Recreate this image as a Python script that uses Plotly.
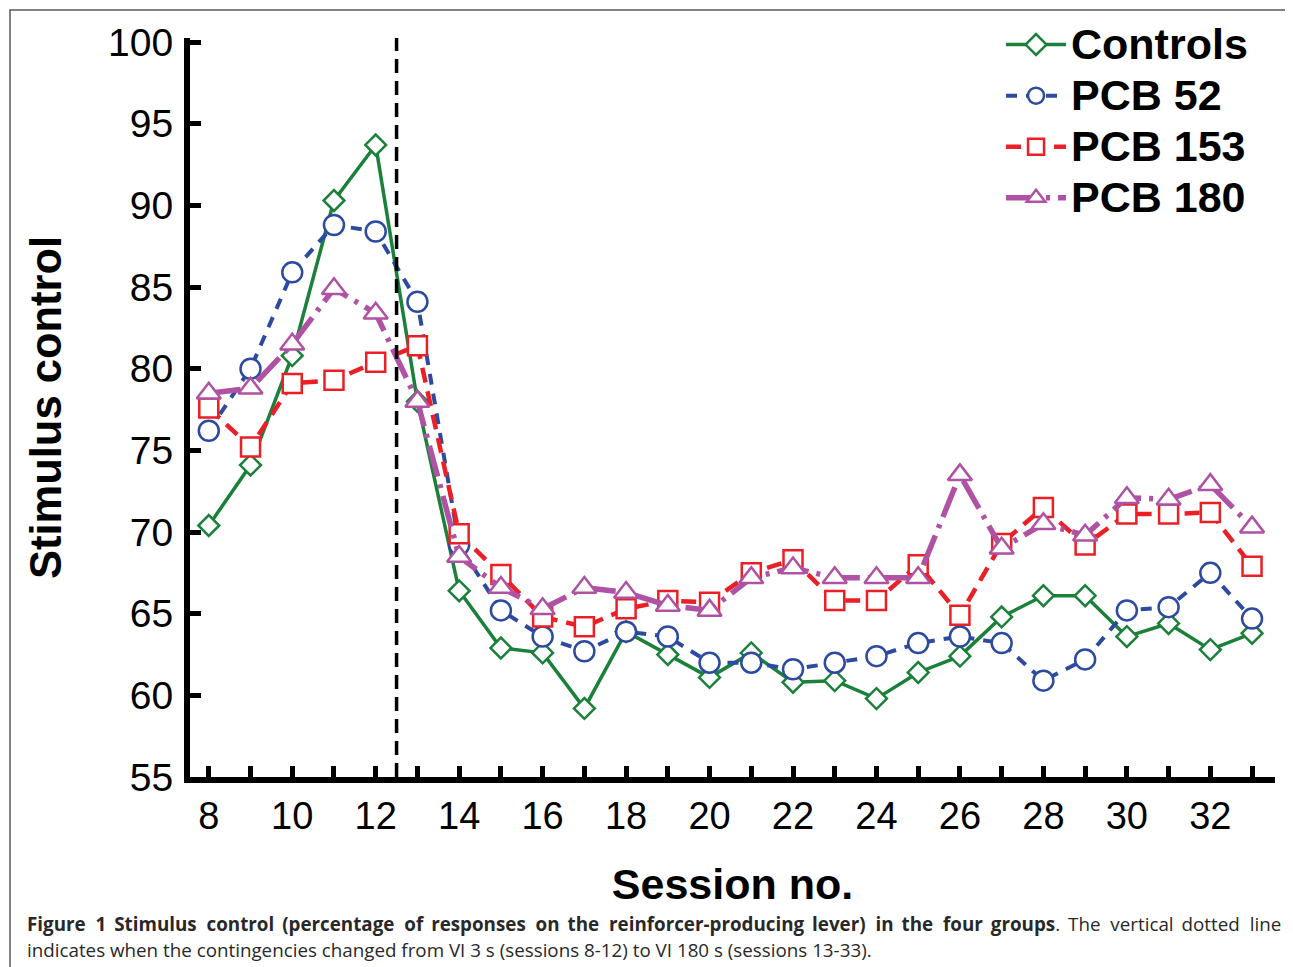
import plotly.graph_objects as go

sessions = list(range(8, 34))

controls = [70.4, 74.1, 80.8, 90.3, 93.7, 78.0, 66.4, 62.9, 62.6, 59.2, 63.9, 62.5, 61.1,
            62.6, 60.8, 60.9, 59.8, 61.4, 62.4, 64.8, 66.1, 66.1, 63.6, 64.4, 62.8, 63.8]
pcb52 = [76.2, 80.0, 85.9, 88.8, 88.4, 84.1, 69.2, 65.2, 63.6, 62.7, 63.9, 63.6, 62.0,
         62.0, 61.6, 62.0, 62.4, 63.2, 63.6, 63.2, 60.9, 62.2, 65.2, 65.4, 67.5, 64.7]
pcb153 = [77.6, 75.2, 79.1, 79.3, 80.4, 81.4, 69.9, 67.4, 64.8, 64.2, 65.3, 65.8, 65.7,
          67.5, 68.3, 65.8, 65.8, 68.0, 64.9, 69.3, 71.5, 69.2, 71.1, 71.1, 71.2, 67.9]
pcb180 = [78.5, 78.8, 81.5, 84.9, 83.4, 78.0, 68.5, 66.6, 65.3, 66.6, 66.3, 65.5, 65.2,
          67.2, 67.8, 67.2, 67.2, 67.2, 73.5, 69.0, 70.5, 69.8, 72.1, 72.0, 72.9, 70.3]

x_ticktext = [str(s) if s % 2 == 0 else "" for s in sessions]
y_ticks = list(range(55, 101, 5))
switch_session = 12.5

caption_bold = ("Figure 1 Stimulus control (percentage of responses on the reinforcer-producing "
                "lever) in the four groups")
caption_tail = ". The vertical dotted line"
caption2 = "indicates when the contingencies changed from VI 3 s (sessions 8-12) to VI 180 s (sessions 13-33)."


def justify(text, start=0):
    # first caption line is justified in the original: widen each space a little
    words = text.split(" ")
    out = words[0]
    for i, w in enumerate(words[1:]):
        extra = "\u2009\u200a" if (i + start) % 2 == 0 else "\u2009"
        out += " " + extra + w
    return out


caption1 = "<b>" + justify(caption_bold) + "</b>" + justify(caption_tail, 1)

fig = go.Figure()

# name, values, line colour, marker symbol, marker size, dash, width
series = [
    ("Controls", controls, "rgb(26,128,58)", "diamond", 16, "solid", 3.5),
    ("PCB 52", pcb52, "rgb(44,74,160)", "circle", 20, "11px,9px", 4),
    ("PCB 153", pcb153, "rgb(236,30,38)", "square", 19, "15px,9px", 4.5),
    ("PCB 180", pcb180, "rgb(176,82,164)", "triangle-up", 21, "32px,8px,4px,8px", 5.5),
]
for name, vals, col, sym, size, dash, width in series:
    fig.add_trace(go.Scatter(
        x=sessions, y=vals, name="<span style='font-size:43px'>" + name + "</span>",
        mode="lines+markers",
        line=dict(color=col, width=width, dash=dash),
        marker=dict(symbol=sym, size=size, color="white",
                    line=dict(color=col, width=2.5)),
    ))

# vertical dashed line where the contingencies changed
fig.add_shape(type="line", xref="x", yref="paper", x0=switch_session, x1=switch_session,
              y0=0, y1=1, line=dict(color="black", width=3.5, dash="14px,8px"))

# frame around the figure
fig.add_shape(type="rect", xref="paper", yref="paper", x0=-0.1659, x1=1.0147,
              y0=-0.28, y1=1.0379, line=dict(color="rgb(90,90,90)", width=1.5),
              layer="below")

cap_font = dict(family="Open Sans", size=18.8, color="rgb(40,40,40)")
fig.add_annotation(text=caption1, xref="paper", yref="paper", x=-0.1521, y=-0.1989,
                   xanchor="left", yanchor="middle", showarrow=False, font=cap_font)
fig.add_annotation(text=caption2, xref="paper", yref="paper", x=-0.1521, y=-0.2341,
                   xanchor="left", yanchor="middle", showarrow=False, font=cap_font)

fig.update_layout(
    width=1293, height=967,
    margin=dict(l=182, r=26, t=30, b=198, autoexpand=False),
    paper_bgcolor="white", plot_bgcolor="white",
    font=dict(family="Liberation Sans, Arial", color="black"),
    showlegend=True,
    legend=dict(x=0.7475, y=1.0325, xanchor="left", yanchor="top",
                font=dict(size=37, family="Liberation Sans, Arial", weight="bold"),
                bgcolor="rgba(0,0,0,0)", itemwidth=60, tracegroupgap=0),
)
fig.update_xaxes(
    range=[7.55, 33.55], tickvals=sessions, ticktext=x_ticktext,
    ticks="inside", ticklen=11, tickwidth=5, tickcolor="black",
    showline=True, linewidth=6, linecolor="black", showgrid=False, zeroline=False,
    tickfont=dict(size=38), title=dict(text="<b>Session no.</b>", font=dict(size=43), standoff=35),
)
fig.update_yaxes(
    range=[55, 100.25], tickvals=y_ticks,
    ticks="inside", ticklen=11, tickwidth=5, tickcolor="black", ticklabelstandoff=3,
    showline=True, linewidth=6, linecolor="black", showgrid=False, zeroline=False,
    tickfont=dict(size=39), title=dict(text="<b>Stimulus control</b>", font=dict(size=43.5), standoff=35),
)

fig.write_html("out.html")
